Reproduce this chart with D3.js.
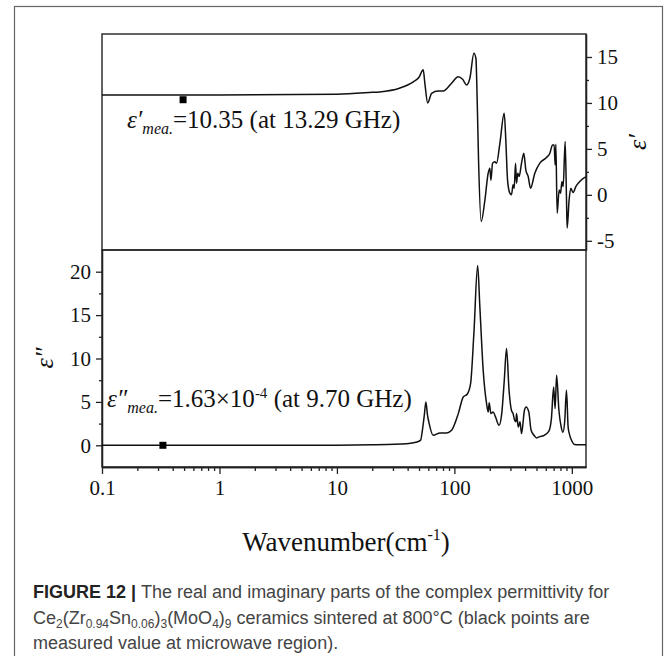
<!DOCTYPE html>
<html>
<head>
<meta charset="utf-8">
<script src="https://cdnjs.cloudflare.com/ajax/libs/d3/7.8.5/d3.min.js"></script>
<style>
  body { margin: 0; background: #fff; }
  svg text { font-family: "Liberation Serif", "Times New Roman", serif; fill: #111; }
  .axis path, .axis line { stroke: #222; stroke-width: 1.3; }
  .axis text { font-size: 21px; fill: #111; }
  .cap { font-family: "Liberation Sans", Arial, sans-serif; font-size: 18px; fill: #444; }
</style>
</head>
<body>
<div id="chart"></div>
<script>
var svgWidth = 669;
var svgHeight = 656;

var margin = { top: 34, left: 102 };
var width = 484;
var topHeight = 216;
var botHeight = 217;

// real part epsilon' (wavenumber in cm-1)
var wnReal = [0.1, 1, 10, 20, 23, 34, 44.7, 50, 54.3, 56.1, 59.3, 64, 72.8, 80.3, 94.6, 107.8, 117.5, 127,
  135.5, 146.6, 152.5, 156.4, 160.6, 169, 182, 194, 200.5, 204.6, 211.5, 221, 228.6, 244, 265.5, 274, 283.5,
  296.6, 306.5, 316, 323, 331.7, 338, 346.8, 356, 373, 390, 406, 425, 445, 484, 534, 608, 650, 685, 707,
  721, 731, 750, 780, 802, 823, 844, 877, 901, 912, 948, 980, 1026, 1081, 1169, 1290, 1320];
var epsReal = [10.85, 10.86, 10.95, 11.15, 11.2, 11.6, 12.3, 12.8, 13.6, 12.1, 10.0, 11.05, 11.3, 11.3, 12.14,
  12.86, 12.57, 11.96, 12.68, 15.4, 14.86, 10.3, 3.8, -2.9, -0.54, 2.36, 2.9, 1.6, 3.45, 3.6, 3.45, 5.6, 8.88,
  6.0, 1.63, 0.18, 0.0, 1.1, 0.7, 3.45, 1.27, 2.36, 2.0, 3.45, 4.53, 2.7, 2.0, 0.72, 2.36, 3.45, 4.06, 4.53,
  5.43, 5.43, 3.26, 5.5, -2.0, 0.54, 0.18, 1.45, 0.9, 5.8, -0.54, -3.6, -0.54, 0.72, 0.25, 0.9, 1.45, 1.9, 1.95];

// imaginary part epsilon''
var wnImag = [0.1, 1, 10, 20, 26.7, 35, 41, 47, 51.6, 53.4, 55.5, 57.2, 59, 61, 66, 75.4, 85.9, 94.7, 108,
  119, 128.5, 137.4, 146.6, 157.8, 164.8, 175.9, 188, 194, 198, 204.6, 214, 224, 240, 253, 266, 278, 292,
  306, 316, 326, 334, 338, 350, 362, 373, 395, 408, 430, 450, 480, 500, 534, 573, 636, 670, 700, 720, 742,
  776, 812, 840, 870, 900, 930, 960, 1000, 1050, 1150, 1320];
var epsImag = [0, 0.005, 0.02, 0.05, 0.08, 0.15, 0.22, 0.35, 0.6, 1.73, 3.5, 5.0, 3.5, 2.5, 1.15, 1.42, 1.42,
  1.73, 3.65, 5.57, 5.88, 7.1, 12.9, 20.7, 15.95, 8.65, 4.8, 3.85, 4.9, 3.65, 3.85, 3.27, 2.3, 3.65, 7.5,
  11.15, 6.34, 4.04, 3.65, 2.88, 2.7, 3.65, 2.1, 2.7, 1.35, 4.04, 4.42, 3.85, 1.73, 1.1, 0.85, 1.0, 1.1,
  1.6, 3.07, 6.73, 4.23, 8.07, 4.04, 2.1, 1.5, 2.8, 6.34, 2.1, 1.15, 0.5, 0.1, 0.05, 0.05];

// measured microwave points [wavenumber, value]
var measReal = [[0.49, 10.35]];
var measImag = [[0.33, 1.63e-4]];

var xTicks = [0.1, 1, 10, 100, 1000];
var realTicks = [-5, 0, 5, 10, 15];
var imagTicks = [0, 5, 10, 15, 20];

var svg = d3.select("#chart").append("svg")
  .attr("width", svgWidth)
  .attr("height", svgHeight);

// outer figure border
svg.append("rect")
  .attr("x", 14.5).attr("y", 6.5)
  .attr("width", 648).attr("height", 660)
  .attr("fill", "none").attr("stroke", "#666").attr("stroke-width", 1.2);

var chartGroup = svg.append("g")
  .attr("transform", `translate(${margin.left}, ${margin.top})`);

var xScale = d3.scaleLog().domain([0.1, 1320]).range([0, width]);
var yReal = d3.scaleLinear().domain([-6, 17.5]).range([topHeight, 0]);
var yImag = d3.scaleLinear().domain([-2.5, 22.5]).range([botHeight, 0]);

var minorX = [];
[0.1, 1, 10, 100].forEach(function(d) {
  for (var k = 2; k <= 9; k++) minorX.push(d * k);
});

// top panel group
var topG = chartGroup.append("g");
var botG = chartGroup.append("g").attr("transform", `translate(0, ${topHeight})`);

// right axis of the top panel
topG.append("g").attr("class", "axis")
  .attr("transform", `translate(${width}, 0)`)
  .call(d3.axisRight(yReal).tickValues([-2.5, 2.5, 7.5, 12.5]).tickSize(3).tickSizeOuter(0).tickFormat(""));
topG.append("g").attr("class", "axis")
  .attr("transform", `translate(${width}, 0)`)
  .call(d3.axisRight(yReal).tickValues(realTicks).tickSize(6).tickSizeOuter(0).tickPadding(5)
    .tickFormat(d => String(d)));

// left axis of the bottom panel
botG.append("g").attr("class", "axis")
  .call(d3.axisLeft(yImag).tickValues([2.5, 7.5, 12.5, 17.5]).tickSize(3).tickSizeOuter(0).tickFormat(""));
botG.append("g").attr("class", "axis")
  .call(d3.axisLeft(yImag).tickValues(imagTicks).tickSize(6).tickSizeOuter(0).tickPadding(5)
    .tickFormat(d => String(d)));

// bottom x axis
botG.append("g").attr("class", "axis")
  .attr("transform", `translate(0, ${botHeight})`)
  .call(d3.axisBottom(xScale).tickValues(minorX).tickSize(4).tickSizeOuter(0).tickFormat(""));
botG.append("g").attr("class", "axis")
  .attr("transform", `translate(0, ${botHeight})`)
  .call(d3.axisBottom(xScale).tickValues(xTicks).tickSize(7).tickSizeOuter(0).tickPadding(6)
    .tickFormat(d => String(d)));

// panel frames
topG.append("rect").attr("width", width).attr("height", topHeight)
  .attr("fill", "none").attr("stroke", "#222").attr("stroke-width", 1.4);
botG.append("rect").attr("width", width).attr("height", botHeight)
  .attr("fill", "none").attr("stroke", "#222").attr("stroke-width", 1.4);

// clip paths
svg.append("defs").append("clipPath").attr("id", "clipTop")
  .append("rect").attr("width", width).attr("height", topHeight);
svg.select("defs").append("clipPath").attr("id", "clipBot")
  .append("rect").attr("width", width).attr("height", botHeight);

var realData = wnReal.map((w, i) => [w, epsReal[i]]);
var imagData = wnImag.map((w, i) => [w, epsImag[i]]);

var lineReal = d3.line().x(d => xScale(d[0])).y(d => yReal(d[1])).curve(d3.curveMonotoneX);
var lineImag = d3.line().x(d => xScale(d[0])).y(d => yImag(d[1])).curve(d3.curveMonotoneX);

topG.append("path").datum(realData)
  .attr("clip-path", "url(#clipTop)")
  .attr("d", lineReal)
  .attr("fill", "none").attr("stroke", "#111").attr("stroke-width", 1.5);
botG.append("path").datum(imagData)
  .attr("clip-path", "url(#clipBot)")
  .attr("d", lineImag)
  .attr("fill", "none").attr("stroke", "#111").attr("stroke-width", 1.5);

// measured points
topG.selectAll(".measR").data(measReal).enter().append("rect")
  .attr("x", d => xScale(d[0]) - 3.5).attr("y", d => yReal(d[1]) - 3.5)
  .attr("width", 7).attr("height", 7).attr("fill", "#000");
botG.selectAll(".measI").data(measImag).enter().append("rect")
  .attr("x", d => xScale(d[0]) - 3.5).attr("y", d => yImag(d[1]) - 3.5)
  .attr("width", 7).attr("height", 7).attr("fill", "#000");

// annotations
var a1 = svg.append("text").attr("x", 127).attr("y", 128).style("font-size", "25px");
a1.append("tspan").style("font-style", "italic").text("ε′");
a1.append("tspan").style("font-style", "italic").style("font-size", "16px").attr("dy", 6).text("mea.");
a1.append("tspan").attr("dy", -6).text("=10.35 (at 13.29 GHz)");

var a2 = svg.append("text").attr("x", 107).attr("y", 407).style("font-size", "25px");
a2.append("tspan").style("font-style", "italic").text("ε″");
a2.append("tspan").style("font-style", "italic").style("font-size", "16px").attr("dy", 6).text("mea.");
a2.append("tspan").attr("dy", -6).text("=1.63×10");
a2.append("tspan").style("font-size", "15px").attr("dy", -9).text("-4");
a2.append("tspan").attr("dy", 9).text(" (at 9.70 GHz)");

// axis titles
svg.append("text")
  .attr("transform", "translate(646, 142) rotate(-90)")
  .attr("text-anchor", "middle")
  .style("font-size", "26px").style("font-style", "italic")
  .text("ε′");
svg.append("text")
  .attr("transform", "translate(53, 358) rotate(-90)")
  .attr("text-anchor", "middle")
  .style("font-size", "26px").style("font-style", "italic")
  .text("ε″");

var xl = svg.append("text").attr("x", 346).attr("y", 551)
  .attr("text-anchor", "middle").style("font-size", "27px");
xl.append("tspan").text("Wavenumber(cm");
xl.append("tspan").style("font-size", "16px").attr("dy", -11).text("-1");
xl.append("tspan").attr("dy", 11).text(")");

// caption
var c1 = svg.append("text").attr("class", "cap").attr("x", 33).attr("y", 598);
c1.append("tspan").style("font-weight", "bold").style("fill", "#222").text("FIGURE 12 | ");
c1.append("tspan").text("The real and imaginary parts of the complex permittivity for");

var c2 = svg.append("text").attr("class", "cap").attr("x", 33).attr("y", 624);
c2.append("tspan").text("Ce");
c2.append("tspan").style("font-size", "12px").attr("dy", 4).text("2");
c2.append("tspan").attr("dy", -4).text("(Zr");
c2.append("tspan").style("font-size", "12px").attr("dy", 4).text("0.94");
c2.append("tspan").attr("dy", -4).text("Sn");
c2.append("tspan").style("font-size", "12px").attr("dy", 4).text("0.06");
c2.append("tspan").attr("dy", -4).text(")");
c2.append("tspan").style("font-size", "12px").attr("dy", 4).text("3");
c2.append("tspan").attr("dy", -4).text("(MoO");
c2.append("tspan").style("font-size", "12px").attr("dy", 4).text("4");
c2.append("tspan").attr("dy", -4).text(")");
c2.append("tspan").style("font-size", "12px").attr("dy", 4).text("9");
c2.append("tspan").attr("dy", -4).text(" ceramics sintered at 800°C (black points are");

svg.append("text").attr("class", "cap").attr("x", 33).attr("y", 649)
  .text("measured value at microwave region).");
</script>
</body>
</html>
